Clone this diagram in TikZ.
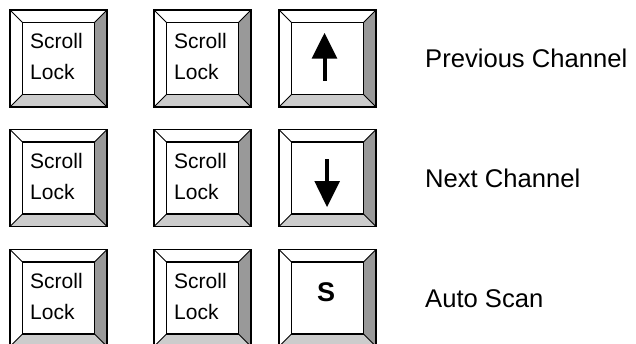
\documentclass[tikz,border=0pt]{standalone}
\usepackage{fontspec}
\setmainfont{Liberation Sans}
\definecolor{bevR}{HTML}{999999}
\definecolor{bevB}{HTML}{CCCCCC}
\tikzset{
  keyline/.style={draw=black, line width=1.4pt, line join=miter},
  keytext/.style={anchor=base west, inner sep=0pt, font=\fontsize{21}{25}\selectfont},
  labeltext/.style={anchor=base west, inner sep=0pt, font=\fontsize{25.6}{30}\selectfont},
}
\newcommand\drawkey[2]{%
  \begin{scope}[shift={(#1,#2)}]
    \fill[white] (0,0) rectangle (97,97);
    \fill[bevR] (97,0) -- (84.5,12.5) -- (84.5,84.5) -- (97,97) -- cycle;
    \fill[bevB] (0,97) -- (12.5,84.5) -- (84.5,84.5) -- (97,97) -- cycle;
    \draw[keyline, line width=1pt] (0,0) -- (12.5,12.5) (97,0) -- (84.5,12.5)
      (0,97) -- (12.5,84.5) (97,97) -- (84.5,84.5);
    \draw[keyline] (0,0) rectangle (97,97);
    \draw[keyline] (12.5,12.5) rectangle (84.5,84.5);
  \end{scope}}
\newcommand\scrolllock[3]{%
  \node[keytext] (#3a) at (#1+20,#2+38.5) {Scroll};
  \node[keytext] (#3b) at (#1+20,#2+69.5) {Lock};}
\begin{document}
\begin{tikzpicture}[x=1pt,y=-1pt]
  \useasboundingbox (0,0) rectangle (636,343);
  \clip (0,0) rectangle (636,343);
  \fill[white] (0,0) rectangle (636,343);
  % row 1
  \drawkey{10}{10}
  \drawkey{154}{10}
  \drawkey{279}{10}
  \scrolllock{10}{10}{k11}
  \scrolllock{154}{10}{k12}
  \fill (324.5,33) -- (311.7,58.5) -- (337.3,58.5) -- cycle;
  \fill (322.5,57) rectangle (326.5,81);
  \node[labeltext] (l1) at (425,67) {Previous Channel};
  % row 2
  \drawkey{10}{129.5}
  \drawkey{154}{129.5}
  \drawkey{279}{129.5}
  \scrolllock{10}{129.5}{k21}
  \scrolllock{154}{129.5}{k22}
  \fill (325,159) rectangle (329,182);
  \fill (314.3,181) -- (340,181) -- (327,207) -- cycle;
  \node[labeltext] (l2) at (425,187) {Next Channel};
  % row 3
  \drawkey{10}{249.5}
  \drawkey{154}{249.5}
  \drawkey{279}{249.5}
  \scrolllock{10}{249.5}{k31}
  \scrolllock{154}{249.5}{k32}
  \node[anchor=base, inner sep=0pt, font=\bfseries\fontsize{27}{32}\selectfont] (s) at (326,301) {S};
  \node[labeltext] (l3) at (425,307) {Auto Scan};
\end{tikzpicture}
\end{document}
